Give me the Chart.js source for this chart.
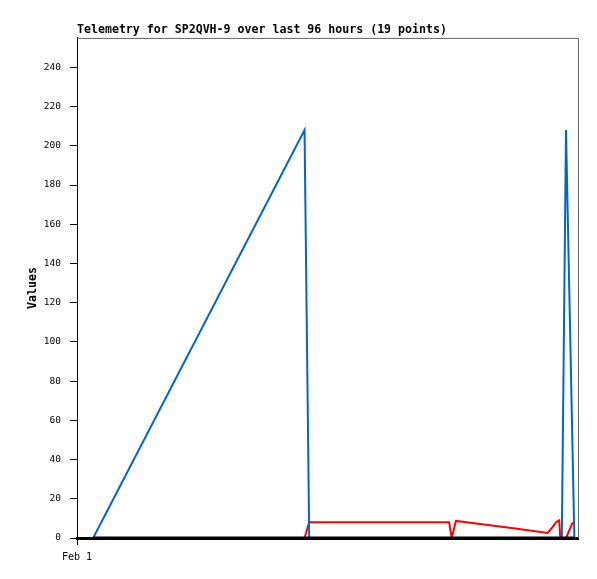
<!DOCTYPE html>
<html>
<head>
<meta charset="utf-8">
<script src="https://cdn.jsdelivr.net/npm/chart.js@4.4.0/dist/chart.umd.min.js"></script>
<style>
  body { margin: 0; background: #fff; }
  #wrap { width: 597px; height: 579px; }
</style>
</head>
<body>
<div id="wrap"><canvas id="chart" width="597" height="579"></canvas></div>
<script>
// hours since Feb 1 00:00
const hours = [3.1, 43.6, 44.5, 58.0, 65.0, 71.3, 71.8, 72.6, 78.0, 84.0, 90.2, 91.1, 91.9, 92.4, 92.6, 92.9, 93.7, 95.0, 95.3];
const blueValues = [0, 208, 0, 0, 0, 0, 0, 0, 0, 0, 0, null, null, null, null, 0, 208, null, 0];
const redValues = [0, 0, 8, 8, 8, 8, 0, 8.7, 6.9, 4.8, 2.6, 5.5, 8.3, 9.0, 0, 0, 0, 8, null];
const blackValues = hours.map(() => 0);
const yTicks = [0, 20, 40, 60, 80, 100, 120, 140, 160, 180, 200, 220, 240];
const xTickLabel = 'Feb 1';

const mono = "'DejaVu Sans Mono', monospace";

const toPoints = vals => hours.map((h, i) => ({ x: h, y: vals[i] }));

// top and right border of the plot
const frame = {
  id: 'frame',
  beforeDatasetsDraw(chart) {
    const { ctx, chartArea: a } = chart;
    ctx.save();
    ctx.strokeStyle = '#666';
    ctx.lineWidth = 1;
    ctx.beginPath();
    ctx.moveTo(a.left, a.top + 0.5);
    ctx.lineTo(a.right + 0.5, a.top + 0.5);
    ctx.lineTo(a.right + 0.5, a.bottom);
    ctx.stroke();
    ctx.restore();
  }
};

new Chart(document.getElementById('chart').getContext('2d'), {
  type: 'line',
  data: {
    datasets: [
      { label: 'black', data: toPoints(blackValues), borderColor: '#000', borderWidth: 3 },
      { label: 'blue', data: toPoints(blueValues), borderColor: '#0066cc', borderWidth: 2 },
      { label: 'red', data: toPoints(redValues), borderColor: '#ff0000', borderWidth: 2 }
    ]
  },
  options: {
    responsive: false,
    animation: false,
    spanGaps: true,
    elements: { point: { radius: 0 }, line: { tension: 0 } },
    layout: { padding: { left: 0, right: 19, top: 0, bottom: 0 } },
    plugins: {
      legend: { display: false },
      tooltip: { enabled: false },
      title: {
        display: true,
        text: 'Telemetry for SP2QVH-9 over last 96 hours (19 points)',
        align: 'start',
        fullSize: false,
        color: '#000',
        font: { family: mono, size: 11.6, weight: 'bold' },
        padding: { top: 23.5, bottom: 0.5 }
      }
    },
    scales: {
      x: {
        type: 'linear',
        min: 0,
        max: 96,
        afterBuildTicks: s => { s.ticks = [{ value: 0 }]; },
        afterFit: s => { s.height = 41; },
        ticks: {
          callback: () => xTickLabel,
          color: '#000',
          font: { family: mono, size: 10 },
          padding: 6,
          maxRotation: 0
        },
        grid: { drawOnChartArea: false, tickLength: 7, color: '#000' },
        border: { color: '#000', width: 3 }
      },
      y: {
        min: 0,
        max: 255,
        afterBuildTicks: s => { s.ticks = yTicks.map(v => ({ value: v })); },
        afterFit: s => { s.width = 77; },
        ticks: {
          color: '#000',
          font: { family: mono, size: 9.5 },
          padding: 9
        },
        grid: { drawOnChartArea: false, tickLength: 7, color: '#000' },
        border: { color: '#000', width: 1 },
        title: {
          display: true,
          text: 'Values',
          color: '#000',
          font: { family: mono, size: 11.6, weight: 'bold' },
          padding: { top: 26, bottom: 0 }
        }
      }
    }
  },
  plugins: [frame]
});
</script>
</body>
</html>
